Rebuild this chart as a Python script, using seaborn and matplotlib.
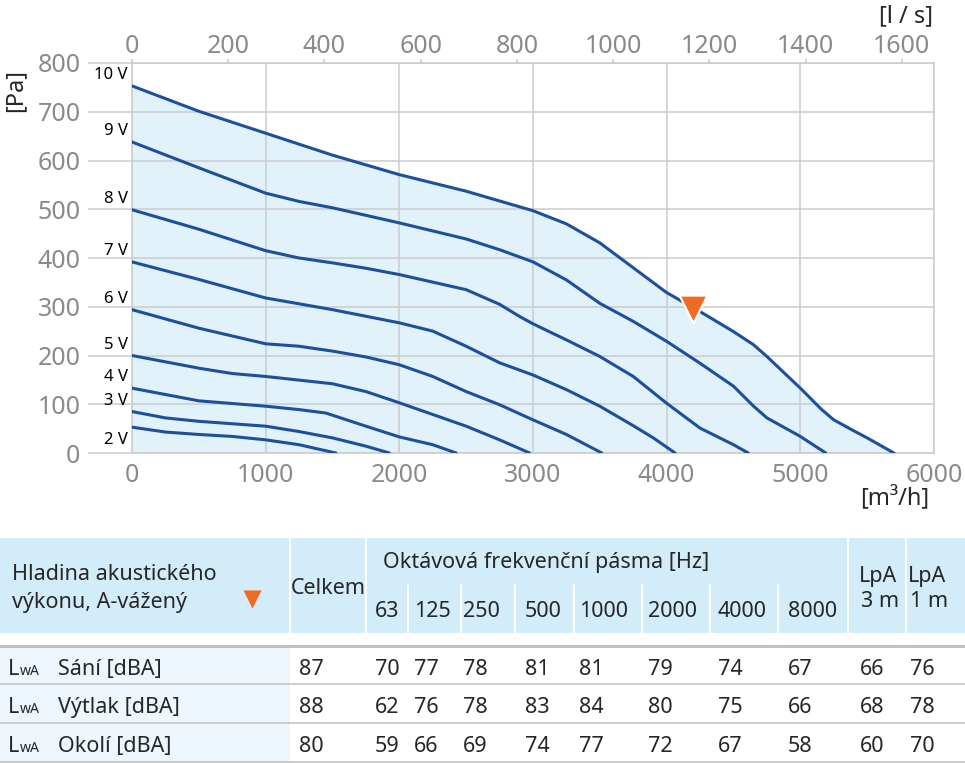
import matplotlib
matplotlib.use("Agg")
import matplotlib.pyplot as plt
from matplotlib.patches import Rectangle
import pandas as pd
import seaborn as sns

# --- fan curves: flow [m3/h] vs pressure [Pa] ---
flow_2v = [0, 250, 500, 750, 1000, 1250, 1525]
pres_2v = [53, 43, 38, 34, 27, 17, 0]
flow_3v = [0, 250, 500, 1000, 1250, 1500, 1750, 1925]
pres_3v = [85, 72, 65, 55, 44, 31, 14, 0]
flow_4v = [0, 500, 1000, 1250, 1450, 1750, 2000, 2250, 2425]
pres_4v = [133, 107, 96, 89, 82, 55, 33, 17, 0]
flow_5v = [0, 500, 750, 1000, 1500, 1750, 2000, 2500, 2750, 2975]
pres_5v = [200, 174, 163, 157, 142, 126, 103, 55, 27, 0]
flow_6v = [0, 500, 1000, 1250, 1500, 1750, 2000, 2250, 2500, 2750, 3000, 3250, 3515]
pres_6v = [294, 256, 224, 219, 209, 197, 181, 157, 126, 99, 68, 38, 0]
flow_7v = [0, 500, 1000, 1500, 2000, 2250, 2500, 2750, 3000, 3250, 3500, 3750, 3900, 4063]
pres_7v = [392, 356, 318, 294, 267, 250, 219, 185, 160, 130, 96, 56, 31, 0]
flow_8v = [0, 500, 1000, 1250, 1500, 1750, 2000, 2500, 2750, 2900, 3000, 3250, 3500,
           3750, 4000, 4250, 4500, 4610]
pres_8v = [499, 459, 415, 400, 390, 379, 366, 335, 305, 280, 265, 232, 198,
           157, 102, 51, 17, 0]
flow_9v = [0, 500, 1000, 1250, 1500, 2000, 2500, 2750, 3000, 3250, 3500, 3750,
           4000, 4250, 4500, 4650, 4750, 5000, 5190]
pres_9v = [638, 585, 533, 516, 503, 472, 439, 417, 392, 355, 307, 270,
           229, 184, 137, 96, 72, 34, 0]
flow_10v = [0, 500, 1000, 1500, 2000, 2500, 2750, 3000, 3250, 3500, 3750, 4000,
            4250, 4500, 4650, 4750, 5000, 5160, 5250, 5410, 5500, 5700]
pres_10v = [753, 701, 656, 611, 571, 537, 517, 497, 470, 431, 380, 329,
            290, 249, 222, 198, 133, 89, 68, 44, 31, 0]

voltages = ["2 V", "3 V", "4 V", "5 V", "6 V", "7 V", "8 V", "9 V", "10 V"]
flows = [flow_2v, flow_3v, flow_4v, flow_5v, flow_6v, flow_7v, flow_8v, flow_9v, flow_10v]
pressures = [pres_2v, pres_3v, pres_4v, pres_5v, pres_6v, pres_7v, pres_8v, pres_9v, pres_10v]

# working point
op_flow = 4194
op_pres = 296

# --- acoustic table ---
bands = ["63", "125", "250", "500", "1000", "2000", "4000", "8000"]
row_names = ["Sání [dBA]", "Výtlak [dBA]", "Okolí [dBA]"]
celkem = [87, 88, 80]
band_sani = [70, 77, 78, 81, 81, 79, 74, 67]
band_vytlak = [62, 76, 78, 83, 84, 80, 75, 66]
band_okoli = [59, 66, 69, 74, 77, 72, 67, 58]
lpa_3m = [66, 68, 60]
lpa_1m = [76, 78, 70]

BLUE = "#1c4f9c"
FILL = "#e2f2fb"
ORANGE = "#f26a21"
GRID = "#cbcbcb"
TICK = "#8a8a8a"

sns.set_theme(style="whitegrid")
plt.rcParams["font.family"] = ["Noto Sans", "DejaVu Sans"]

W, H = 965, 763
fig = plt.figure(figsize=(W / 100, H / 100), dpi=100)


def fx(px):
    return px / W


def fy(py):
    return 1 - py / H


# main chart axes: x 132..934 px, y 63..453 px
ax = fig.add_axes([fx(132), fy(453), (934 - 132) / W, (453 - 63) / H])

rows = []
for v, fl, pr in zip(voltages, flows, pressures):
    for a, b in zip(fl, pr):
        rows.append({"flow": a, "pressure": b, "voltage": v})
df = pd.DataFrame(rows)

ax.fill_between(flow_10v, pres_10v, 0, color=FILL, lw=0, zorder=0.3)
sns.lineplot(data=df, x="flow", y="pressure", hue="voltage", hue_order=voltages,
             palette=[BLUE] * len(voltages), estimator=None, sort=False,
             legend=False, lw=2.2, ax=ax, zorder=3)
for line in ax.get_lines():
    line.set_solid_joinstyle("round")
ax.scatter([op_flow], [op_pres], marker="v", s=400, color=ORANGE,
           edgecolor="white", linewidth=1.5, zorder=5)

# voltage labels at the start of each curve
label_nudge = {"2 V": -21}
for v, pr in zip(voltages, pressures):
    ax.annotate(v, xy=(0, pr[0]), xytext=(-4, label_nudge.get(v, 3)),
                textcoords="offset pixels", ha="right", va="bottom",
                fontsize=12, color="black", annotation_clip=False)

ax.set_xlim(0, 6000)
ax.set_ylim(0, 800)
ax.set_xticks(range(0, 6001, 1000))
ax.set_yticks(range(0, 801, 100))
ax.set_xlabel("")
ax.set_ylabel("")
ax.set_axisbelow(True)
ax.grid(True, color=GRID, lw=1.1)
for s in ax.spines.values():
    s.set_color(GRID)
    s.set_linewidth(1.1)
ax.tick_params(axis="y", left=True, length=32, width=1.1, color=GRID, pad=5,
               labelsize=18, labelcolor=TICK)
ax.tick_params(axis="x", bottom=False, length=0, pad=7, labelsize=18, labelcolor=TICK)

top = ax.secondary_xaxis("top", functions=(lambda x: x / 3.6, lambda x: x * 3.6))
top.set_xticks(range(0, 1601, 200))
top.tick_params(length=3, width=1.1, color=GRID, pad=0, labelsize=18, labelcolor=TICK)
top.spines["top"].set_visible(False)

fig.text(fx(929), fy(499), "[m³/h]", ha="right", va="center", fontsize=17)
fig.text(fx(933), fy(16), "[l / s]", ha="right", va="center", fontsize=17)
fig.text(fx(15), fy(90), "[Pa]", ha="center", va="center", rotation=90, fontsize=17)

# --- table drawn in pixel coordinates ---
tb = fig.add_axes([0, 0, 1, 1])
tb.set_xlim(0, W)
tb.set_ylim(H, 0)
tb.axis("off")

tb.add_patch(Rectangle((0, 538), W, 95, color="#d3ecfa", lw=0))
tb.add_patch(Rectangle((0, 646), 290, 117, color="#eef7fd", lw=0))

for x in [290, 366, 848, 906]:
    tb.plot([x, x], [538, 633], color="white", lw=1.5)
for x in [408, 461, 515, 574, 642, 710, 778]:
    tb.plot([x, x], [585, 633], color="white", lw=1.5)

tb.plot([0, W], [646, 646], color="#bdbdbd", lw=2)
for y in [684, 723, 762]:
    tb.plot([0, W], [y, y], color="#c4c4c4", lw=1.2)

fs = 15.5
tb.text(12, 580, "Hladina akustického", fontsize=fs, va="baseline")
tb.text(12, 608, "výkonu, A-vážený", fontsize=fs, va="baseline")
tb.scatter([252], [599], marker="v", s=170, color=ORANGE, lw=0)
tb.text(328, 594, "Celkem", fontsize=fs, va="baseline", ha="center")
tb.text(383, 568, "Oktávová frekvenční pásma [Hz]", fontsize=fs, va="baseline")

band_x = [375, 414, 463, 525, 579, 648, 718, 788]
for x, b in zip(band_x, bands):
    tb.text(x, 617, b, fontsize=fs, va="baseline")
tb.text(859, 582, "LpA", fontsize=fs, va="baseline")
tb.text(861, 607, "3 m", fontsize=fs, va="baseline")
tb.text(908, 582, "LpA", fontsize=fs, va="baseline")
tb.text(910, 607, "1 m", fontsize=fs, va="baseline")

band_rows = [band_sani, band_vytlak, band_okoli]
for i, name in enumerate(row_names):
    yb = [675, 713, 752][i]
    tb.text(8, yb, "L", fontsize=fs, va="baseline")
    tb.text(20, yb, "wA", fontsize=fs * 0.65, va="baseline")
    tb.text(58, yb, name, fontsize=fs, va="baseline")
    tb.text(299, yb, str(celkem[i]), fontsize=fs, va="baseline")
    for x, val in zip(band_x, band_rows[i]):
        tb.text(x, yb, str(val), fontsize=fs, va="baseline")
    tb.text(860, yb, str(lpa_3m[i]), fontsize=fs, va="baseline")
    tb.text(910, yb, str(lpa_1m[i]), fontsize=fs, va="baseline")

fig.savefig("out.png", dpi=100)
